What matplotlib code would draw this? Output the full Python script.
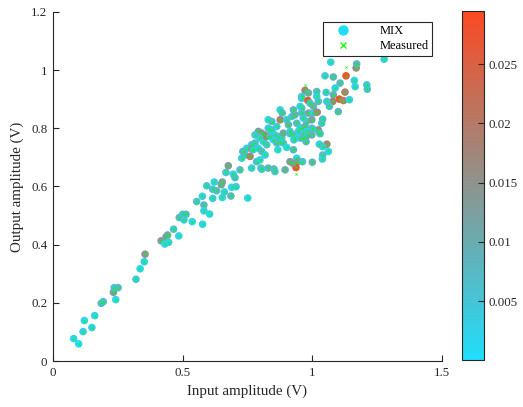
import numpy as np
import matplotlib
matplotlib.use("Agg")
import matplotlib.pyplot as plt
from matplotlib.colors import LinearSegmentedColormap
from matplotlib.lines import Line2D

plt.rcParams['font.family'] = ['Liberation Serif', 'DejaVu Serif']

# MIX model points: input amplitude (V), output amplitude (V), colour value
mix_in = [0.080, 0.099, 0.116, 0.121, 0.150, 0.161, 0.186, 0.194, 0.242, 0.233,
          0.236, 0.251, 0.320, 0.336, 0.352, 0.355, 0.417, 0.436, 0.442, 0.431,
          0.446, 0.465, 0.485, 0.487, 0.500, 0.513, 0.505, 0.537, 0.577, 0.554,
          0.576, 0.582, 0.582, 0.604, 0.593, 0.616, 0.622, 0.616, 0.631, 0.649,
          0.653, 0.661, 0.653, 0.686, 0.689, 0.706, 0.667, 0.695, 0.702,
          # cluster
          0.676, 0.721, 0.728, 0.741, 0.760, 0.747, 0.766, 0.779, 0.792, 0.805,
          0.815, 0.798, 0.811, 0.824, 0.792, 0.805, 0.818, 0.830, 0.844, 0.830,
          0.844, 0.856, 0.869, 0.863, 0.876, 0.876, 0.884, 0.901, 0.908, 0.921,
          0.933, 0.914, 0.927, 0.876, 0.888, 0.901, 0.927, 0.953, 0.959, 0.940,
          0.946, 0.937, 0.959, 0.959, 0.856, 0.895, 0.766, 0.830,
          0.732, 0.751, 0.766, 0.779, 0.802, 0.824, 0.837, 0.852, 0.867, 0.914, 0.924,
          # upper right
          1.071, 1.049, 1.081, 1.130, 1.169, 1.171, 1.162, 1.107, 1.165, 1.210,
          1.212, 1.088, 1.126, 1.053, 1.017, 0.972, 0.985, 0.959, 0.983, 1.017,
          1.023, 1.081, 1.079, 1.104, 1.120, 1.143, 1.056, 1.066, 1.100, 0.991,
          1.004, 0.953, 0.959, 0.965, 0.927, 0.985, 1.004, 0.978, 0.998, 0.940,
          0.953, 0.972, 0.998, 1.023, 1.036, 0.946, 0.985, 0.972, 0.933, 1.040,
          1.019,
          # lower right of cluster
          1.056, 1.027, 1.040, 1.062, 1.040, 1.039, 1.000, 0.962, 0.929, 0.976,
          0.963, 1.002, 1.027, 1.030, 0.772, 0.785, 0.798, 0.805, 0.837, 0.850,
          0.863, 0.882, 0.888, 0.914, 0.965, 0.978, 0.998, 1.277]
mix_out = [0.077, 0.059, 0.101, 0.139, 0.115, 0.156, 0.198, 0.204, 0.211, 0.236,
           0.252, 0.252, 0.281, 0.317, 0.341, 0.367, 0.413, 0.427, 0.433, 0.402,
           0.408, 0.453, 0.430, 0.493, 0.504, 0.504, 0.485, 0.479, 0.470, 0.548,
           0.566, 0.536, 0.516, 0.505, 0.602, 0.559, 0.615, 0.590, 0.585, 0.606,
           0.615, 0.581, 0.562, 0.567, 0.597, 0.599, 0.648, 0.642, 0.630,
           0.671, 0.657, 0.697, 0.708, 0.703, 0.731, 0.743, 0.749, 0.789, 0.783,
           0.777, 0.766, 0.754, 0.743, 0.731, 0.720, 0.708, 0.829, 0.823, 0.800,
           0.794, 0.777, 0.771, 0.806, 0.829, 0.863, 0.852, 0.829, 0.812, 0.840,
           0.846, 0.789, 0.777, 0.754, 0.749, 0.734, 0.726, 0.766, 0.800, 0.697,
           0.685, 0.665, 0.903, 0.869, 0.651, 0.657, 0.663, 0.663,
           0.720, 0.560, 0.728, 0.777, 0.663, 0.771, 0.794, 0.660, 0.726, 0.685, 0.680,
           1.027, 0.980, 0.976, 0.980, 1.007, 1.021, 0.964, 0.955, 0.943, 0.949,
           0.934, 0.938, 0.924, 0.923, 0.926, 0.930, 0.921, 0.909, 0.895, 0.909,
           0.892, 0.915, 0.892, 0.900, 0.895, 0.898, 0.892, 0.875, 0.857, 0.886,
           0.875, 0.875, 0.852, 0.835, 0.863, 0.852, 0.852, 0.823, 0.829, 0.817,
           0.800, 0.806, 0.800, 0.794, 0.817, 0.789, 0.777, 0.769, 0.766, 0.831,
           0.855,
           0.745, 0.745, 0.737, 0.720, 0.708, 0.694, 0.683, 0.685, 0.760, 0.754,
           0.783, 0.797, 0.785, 0.781, 0.726, 0.685, 0.691, 0.659, 0.771, 0.760,
           0.749, 0.766, 0.783, 0.781, 0.766, 0.789, 0.777, 1.037]
mix_c = [0.002, 0.001, 0.003, 0.002, 0.003, 0.002, 0.007, 0.006, 0.002, 0.013,
         0.005, 0.007, 0.004, 0.002, 0.003, 0.014, 0.013, 0.012, 0.011, 0.002,
         0.003, 0.006, 0.002, 0.007, 0.006, 0.007, 0.004, 0.002, 0.002, 0.006,
         0.003, 0.008, 0.003, 0.002, 0.005, 0.004, 0.003, 0.006, 0.007, 0.013,
         0.012, 0.004, 0.003, 0.008, 0.002, 0.004, 0.005, 0.003, 0.006,
         0.014, 0.007, 0.004, 0.005, 0.018, 0.003, 0.004, 0.006, 0.012, 0.013,
         0.014, 0.004, 0.003, 0.005, 0.003, 0.007, 0.004, 0.003, 0.006, 0.004,
         0.008, 0.003, 0.006, 0.004, 0.019, 0.003, 0.007, 0.004, 0.009, 0.005,
         0.010, 0.004, 0.011, 0.003, 0.006, 0.002, 0.008, 0.004, 0.007, 0.003,
         0.012, 0.028, 0.005, 0.008, 0.005, 0.010, 0.004, 0.008,
         0.007, 0.002, 0.015, 0.005, 0.008, 0.019, 0.004, 0.007, 0.002, 0.013, 0.013,
         0.003, 0.004, 0.008, 0.028, 0.017, 0.008, 0.003, 0.008, 0.003, 0.004,
         0.006, 0.003, 0.019, 0.005, 0.007, 0.018, 0.010, 0.004, 0.027, 0.003,
         0.006, 0.009, 0.019, 0.027, 0.020, 0.003, 0.004, 0.006, 0.008, 0.005,
         0.010, 0.003, 0.006, 0.004, 0.008, 0.011, 0.004, 0.005, 0.012, 0.007,
         0.003, 0.009, 0.008, 0.018, 0.005, 0.004, 0.006, 0.010, 0.003, 0.006,
         0.017,
         0.018, 0.003, 0.005, 0.002, 0.006, 0.004, 0.009, 0.006, 0.004, 0.008,
         0.005, 0.004, 0.007, 0.006, 0.004, 0.006, 0.003, 0.005, 0.005, 0.003,
         0.007, 0.004, 0.011, 0.005, 0.007, 0.004, 0.009, 0.003]

# Measured points (coincide with the model points, plus a few stray marks)
meas_in = mix_in + [1.255, 1.400, 0.937, 1.130, 0.972]
meas_out = mix_out + [1.053, 1.050, 0.642, 1.010, 0.949]

c_min, c_max = 0.0, 0.0295
cbar_ticks = [0.005, 0.01, 0.015, 0.02, 0.025]
cbar_labels = ["0.005", "0.01", "0.015", "0.02", "0.025"]

cmap = LinearSegmentedColormap.from_list("cyanred", ["#20DEFB", "#FB4A22"])
axcol = "#262626"

fig = plt.figure(figsize=(5.23, 4.07), dpi=100)
ax = fig.add_axes([0.1013, 0.113, 0.7438, 0.858])
cax = fig.add_axes([0.8834, 0.115, 0.042, 0.858])

sc = ax.scatter(mix_in, mix_out, c=mix_c, cmap=cmap, vmin=c_min, vmax=c_max,
                s=30, linewidths=0, zorder=2)
ax.scatter(meas_in, meas_out, marker='x', color='#00FF00', s=2.2, linewidths=0.5,
           zorder=3)

ax.set_xlim(0, 1.5)
ax.set_ylim(0, 1.2)
ax.set_xticks([0, 0.5, 1, 1.5])
ax.set_xticklabels(["0", "0.5", "1", "1.5"])
ax.set_yticks([0, 0.2, 0.4, 0.6, 0.8, 1.0, 1.2])
ax.set_yticklabels(["0", "0.2", "0.4", "0.6", "0.8", "1", "1.2"])
for s in ['top', 'right']:
    ax.spines[s].set_visible(False)
for s in ['left', 'bottom']:
    ax.spines[s].set_color(axcol)
    ax.spines[s].set_linewidth(0.8)
ax.tick_params(direction='in', length=4, width=0.8, colors=axcol, labelsize=9.3,
               pad=4)
ax.set_xlabel("Input amplitude (V)", fontsize=10.8, color=axcol, labelpad=4)
ax.set_ylabel("Output amplitude (V)", fontsize=10.8, color=axcol, labelpad=5)

handles = [Line2D([], [], marker='o', linestyle='', markersize=7.5,
                  markerfacecolor='#20DEFB', markeredgewidth=0),
           Line2D([], [], marker='x', linestyle='', markersize=4.5,
                  color='#00FF00', markeredgewidth=0.9)]
leg = ax.legend(handles, ["MIX", "Measured"], loc='upper right',
                bbox_to_anchor=(0.975, 0.972), borderaxespad=0, fontsize=9,
                fancybox=False, framealpha=1, edgecolor=axcol,
                handletextpad=1.6, borderpad=0.3, labelspacing=0.25,
                handlelength=2.6)
leg.get_frame().set_linewidth(0.8)

cb = fig.colorbar(sc, cax=cax)
cb.set_ticks(cbar_ticks)
cb.set_ticklabels(cbar_labels)
cb.outline.set_edgecolor(axcol)
cb.outline.set_linewidth(0.8)
cax.tick_params(direction='in', length=4, width=0.8, colors=axcol, labelsize=9.3,
                pad=3)

fig.savefig("out.png", dpi=100)
